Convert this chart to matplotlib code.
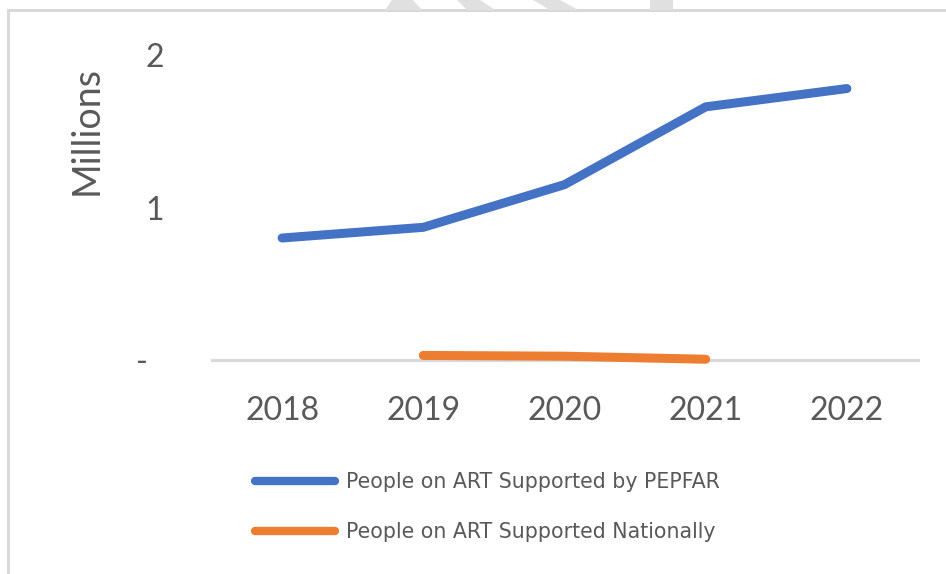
import matplotlib.pyplot as plt
from matplotlib.patches import Rectangle, Polygon

# people on ART, millions
years = ['2018', '2019', '2020', '2021', '2022']
pepfar = [0.80, 0.87, 1.15, 1.66, 1.78]
national_years = ['2019', '2020', '2021']
national = [0.030, 0.025, 0.005]

ytick_vals = [0, 1, 2]
ytick_labels = ['-  ', '1', '2']

blue = '#4472c4'
orange = '#ed7d31'
grey_txt = '#595959'

fig = plt.figure(figsize=(9.46, 5.74), dpi=100)
W, H = 946, 574

# chart frame
fig.patches.append(Rectangle((8 / W, -0.1), 1.2, (574 - 10) / H + 0.1,
                             transform=fig.transFigure, fill=False,
                             edgecolor='#d9d9d9', lw=2.2, zorder=0))

# faint watermark strokes above the frame
for pts in [[(385, 10), (392, 0), (413, 0), (422, 10)],
            [(457, 0), (480, 0), (495, 10), (467, 10)],
            [(533, 0), (560, 0), (578, 10), (550, 10)],
            [(650, 0), (673, 0), (673, 10), (650, 10)]]:
    fig.patches.append(Polygon([(x / W, 1 - y / H) for x, y in pts], closed=True,
                               transform=fig.transFigure, facecolor='#e0e0e0',
                               edgecolor='none', zorder=0))

ax = fig.add_axes([211.5 / W, 1 - 360 / H, (917.5 - 211.5) / W, (360 - 55) / H])

x = list(range(len(years)))
xn = [years.index(y) for y in national_years]

ax.axhline(0, color='#d9d9d9', lw=2.3, zorder=1, clip_on=False)
ax.plot(x, pepfar, color=blue, lw=6.5, solid_capstyle='round',
        solid_joinstyle='round', label='People on ART Supported by PEPFAR', zorder=3)
ax.plot(xn, national, color=orange, lw=6.5, solid_capstyle='round',
        solid_joinstyle='round', label='People on ART Supported Nationally',
        zorder=3, clip_on=False)

ax.set_xlim(-0.5, len(years) - 0.5)
ax.set_ylim(0, 2)
ax.set_xticks(x)
ax.set_xticklabels(years, fontsize=23, color=grey_txt, family='Lato')
ax.set_yticks(ytick_vals)
ax.set_yticklabels(ytick_labels, fontsize=23, color=grey_txt, family='Lato')
ax.tick_params(length=0)
ax.tick_params(axis='x', pad=26)
ax.tick_params(axis='y', pad=34)

for s in ax.spines.values():
    s.set_visible(False)

ax.set_ylabel('Millions', fontsize=27, color=grey_txt, family='Lato')
ax.yaxis.set_label_coords(-0.152, 0.754)

leg = fig.legend(loc='upper left', bbox_to_anchor=(245 / W, 1 - 462 / H),
                 frameon=False, fontsize=14.8, handlelength=3.9, handletextpad=0.5,
                 labelspacing=1.45, borderpad=0, labelcolor=grey_txt)
for line in leg.get_lines():
    line.set_linewidth(6)

fig.savefig('out.png', dpi=100)
